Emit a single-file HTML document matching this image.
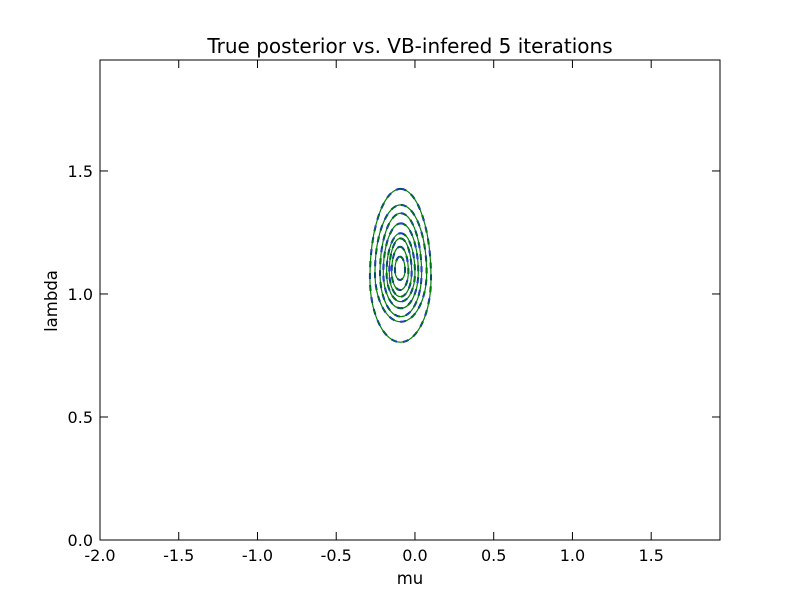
<!DOCTYPE html>
<html><head><meta charset="utf-8"><style>
body{margin:0;background:#fff}
text{font-family:"DejaVu Sans","Liberation Sans",sans-serif}
</style></head><body>
<svg id="chart" width="800" height="600" viewBox="0 0 800 600">
<rect width="800" height="600" fill="#fff"/>
<text x="410" y="53" font-size="20" text-anchor="middle">True posterior vs. VB-infered 5 iterations</text>
<g id="plot"></g>
<rect x="100" y="60" width="620" height="480" fill="none" stroke="#000" stroke-width="1"/>
<text x="410" y="584" font-size="16.5" text-anchor="middle">mu</text>
<text x="57" y="301" font-size="16.5" text-anchor="middle" transform="rotate(-90 57 301)">lambda</text>
</svg>
<script>
const xTicks=[-2.0,-1.5,-1.0,-0.5,0.0,0.5,1.0,1.5];
const yTicks=[0.0,0.5,1.0,1.5];
const muLeft=[-0.286,-0.254,-0.222,-0.201,-0.180,-0.163,-0.148,-0.127];
const muRight=[0.102,0.074,0.042,0.021,0.0,-0.021,-0.042,-0.063];
const lamTop=[1.427,1.362,1.328,1.287,1.247,1.226,1.192,1.152];
const lamBottom=[0.804,0.887,0.908,0.942,0.969,0.989,1.016,1.057];
const X0=100,X1=720,Y0=540,Y1=60,xmin=-2,xmax=1.937,ymin=0,ymax=1.951;
const sx=v=>X0+(v-xmin)/(xmax-xmin)*(X1-X0);
const sy=v=>Y0-(v-ymin)/(ymax-ymin)*(Y0-Y1);
const NS='http://www.w3.org/2000/svg';
const svg=document.getElementById('chart');
const plot=document.getElementById('plot');
function mk(t,a,p){const e=document.createElementNS(NS,t);for(const k in a)e.setAttribute(k,a[k]);(p||svg).appendChild(e);return e;}
xTicks.forEach(v=>{const x=sx(v);
 const t=mk('line',{x1:x,x2:x,y1:540,y2:532,stroke:'#000'});
 
 
 const t2=mk('line',{x1:x,x2:x,y1:60,y2:68,stroke:'#000'});
 
 
 const l=mk('text',{x:x,y:561,'font-size':16,'text-anchor':'middle'});l.textContent=v.toFixed(1);
 
 
});
yTicks.forEach(v=>{const y=sy(v);
 const t=mk('line',{x1:100,x2:108,y1:y,y2:y,stroke:'#000'});
 
 
 const t2=mk('line',{x1:712,x2:720,y1:y,y2:y,stroke:'#000'});
 
 
 const l=mk('text',{x:93,y:y+6,'font-size':16,'text-anchor':'end'});l.textContent=v.toFixed(1);
 
 
});
function egg(i){
 const xl=sx(muLeft[i]),xr=sx(muRight[i]),cx=(xl+xr)/2,rx=(xr-xl)/2;
 const yt=sy(lamTop[i]),yb=sy(lamBottom[i]),ym=yt+(yb-yt)*0.58;
 return `M${cx},${yt} A${rx},${ym-yt} 0 0 1 ${xr},${ym} A${rx},${yb-ym} 0 0 1 ${cx},${yb} A${rx},${yb-ym} 0 0 1 ${xl},${ym} A${rx},${ym-yt} 0 0 1 ${cx},${yt}Z`;
}
muLeft.forEach((_,i)=>{
 const b=mk('path',{d:egg(i),fill:'none',stroke:'#0000ff','stroke-width':2,'stroke-dasharray':'6,6'},plot);
 
 
});
muLeft.forEach((_,i)=>{
 const g=mk('path',{d:egg(i),fill:'none',stroke:'#008000','stroke-width':1.2},plot);
 
 
});
</script>
</body></html>
